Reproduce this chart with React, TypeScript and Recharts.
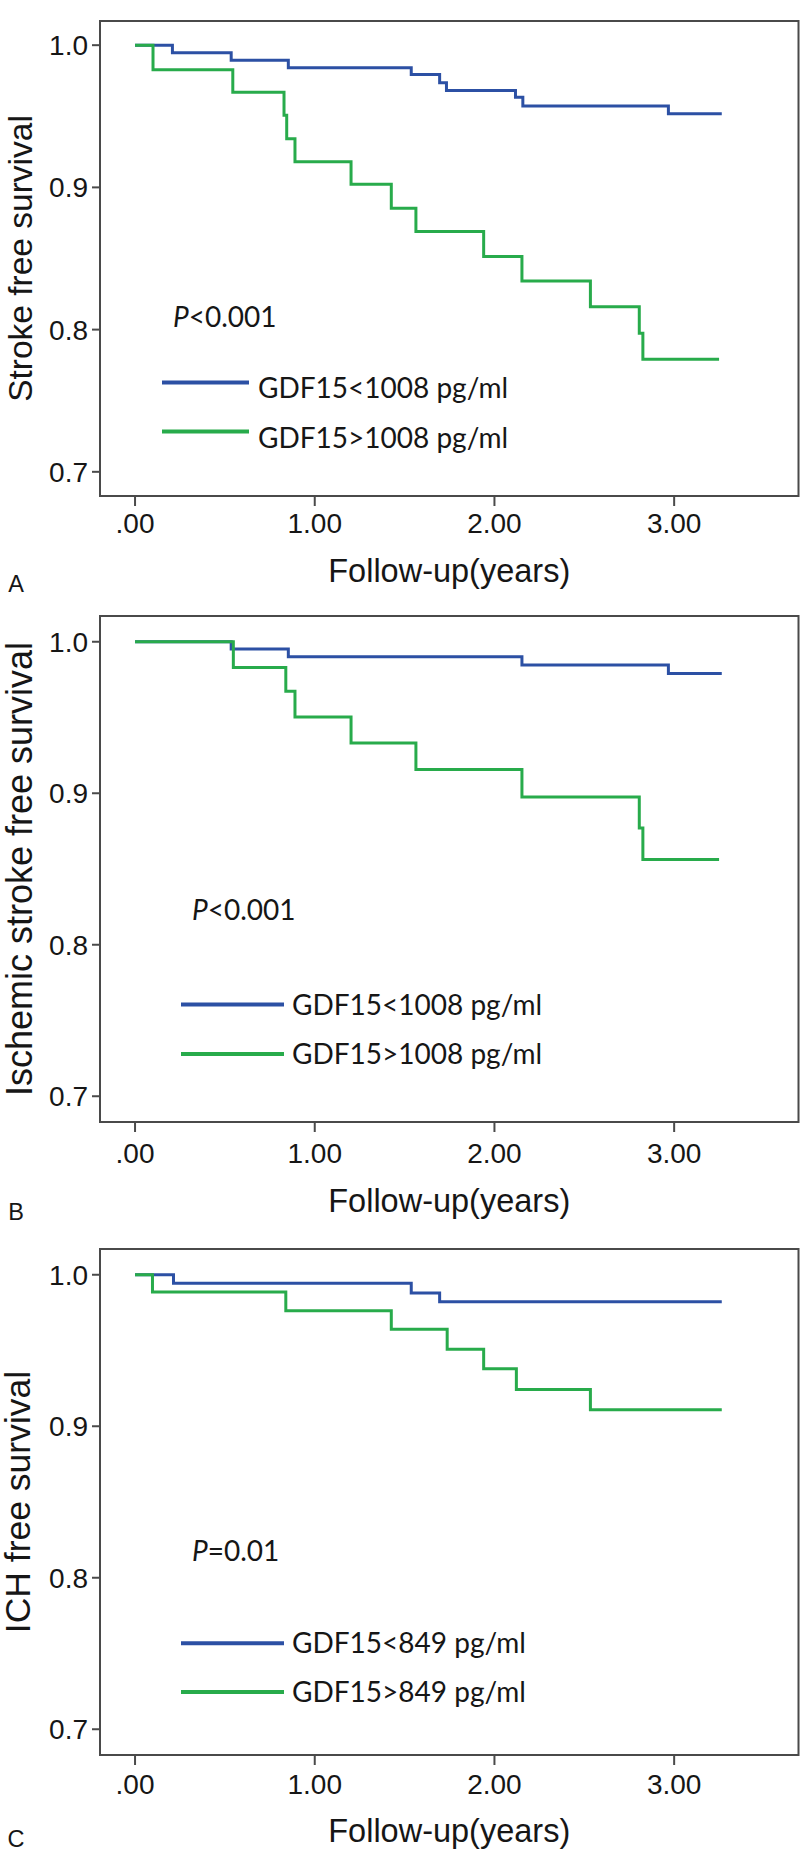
import React from 'react';
import { LineChart, Line, XAxis, YAxis, ReferenceArea, Legend } from 'recharts';

// ---------- data ----------
const xTicks = [0, 1, 2, 3];
const yTicks = [0.7, 0.8, 0.9, 1.0];
const xDomain: [number, number] = [-0.195, 3.692];
const yDomain: [number, number] = [0.683, 1.017];

const panelLetters = ['A', 'B', 'C'];
const yTitles = ['Stroke free survival', 'Ischemic stroke free survival', 'ICH free survival'];
const xTitle = 'Follow-up(years)';
const pValues = ['<0.001', '<0.001', '=0.01'];
const lowLabels = ['GDF15<1008 pg/ml', 'GDF15<1008 pg/ml', 'GDF15<849 pg/ml'];
const highLabels = ['GDF15>1008 pg/ml', 'GDF15>1008 pg/ml', 'GDF15>849 pg/ml'];

const aLow = [
  { t: 0, s: 1 }, { t: 0.208, s: 0.9947 }, { t: 0.535, s: 0.9894 }, { t: 0.853, s: 0.9842 },
  { t: 1.537, s: 0.9794 }, { t: 1.695, s: 0.9736 }, { t: 1.733, s: 0.9681 }, { t: 2.117, s: 0.9633 },
  { t: 2.158, s: 0.9572 }, { t: 2.968, s: 0.9517 }, { t: 3.265, s: 0.9517 },
];
const aHigh = [
  { t: 0, s: 1 }, { t: 0.1, s: 0.9828 }, { t: 0.544, s: 0.9669 }, { t: 0.829, s: 0.9508 },
  { t: 0.844, s: 0.9342 }, { t: 0.89, s: 0.918 }, { t: 1.202, s: 0.9022 }, { t: 1.426, s: 0.8853 },
  { t: 1.563, s: 0.8689 }, { t: 1.94, s: 0.8514 }, { t: 2.153, s: 0.8342 }, { t: 2.534, s: 0.8161 },
  { t: 2.806, s: 0.7975 }, { t: 2.826, s: 0.7792 }, { t: 3.25, s: 0.7792 },
];
const bLow = [
  { t: 0, s: 1 }, { t: 0.535, s: 0.9953 }, { t: 0.853, s: 0.9901 }, { t: 2.153, s: 0.9846 },
  { t: 2.968, s: 0.9791 }, { t: 3.265, s: 0.9791 },
];
const bHigh = [
  { t: 0, s: 1 }, { t: 0.547, s: 0.983 }, { t: 0.839, s: 0.9674 }, { t: 0.89, s: 0.9504 },
  { t: 1.202, s: 0.9332 }, { t: 1.563, s: 0.9157 }, { t: 2.153, s: 0.8975 }, { t: 2.806, s: 0.8771 },
  { t: 2.826, s: 0.8562 }, { t: 3.25, s: 0.8562 },
];
const cLow = [
  { t: 0, s: 1 }, { t: 0.214, s: 0.9944 }, { t: 1.537, s: 0.988 }, { t: 1.695, s: 0.9822 },
  { t: 3.265, s: 0.9822 },
];
const cHigh = [
  { t: 0, s: 1 }, { t: 0.097, s: 0.9886 }, { t: 0.839, s: 0.9763 }, { t: 1.426, s: 0.9641 },
  { t: 1.737, s: 0.9508 }, { t: 1.94, s: 0.938 }, { t: 2.122, s: 0.9242 }, { t: 2.534, s: 0.9109 },
  { t: 3.265, s: 0.9109 },
];

// ---------- styles ----------
const BLUE = '#2c50a4';
const GREEN = '#28ab4b';
const FRAME = '#4a4a4a';
const TEXT = '#161616';
const ARIAL = '"Liberation Sans", Arial, sans-serif';
const CAL = 'Lato, "Open Sans", sans-serif';

const fmtX = (v: number) => (v === 0 ? '.00' : v.toFixed(2));
const fmtY = (v: number) => v.toFixed(1);

type Layout = {
  top: number;
  height: number;
  mTop: number;
  mBottom: number;
  tickMargin: number;
  xLabelOffset: number;
  yLabelSize: number;
  yLabelOffset: number;
  pX: number;
  pBase: number;
  lineX1: number;
  lineX2: number;
  line1Y: number;
  line2Y: number;
  textX: number;
  text1Base: number;
  text2Base: number;
  letterBase: number;
};

const layouts: Layout[] = [
  {
    top: 0, height: 600, mTop: 21, mBottom: 44, tickMargin: 7, xLabelOffset: 3,
    yLabelSize: 33.5, yLabelOffset: 20,
    pX: 173, pBase: 327, lineX1: 162, lineX2: 249, line1Y: 382.6, line2Y: 431.6,
    textX: 258, text1Base: 398, text2Base: 447.5, letterBase: 591.5,
  },
  {
    top: 600, height: 630, mTop: 16, mBottom: 48, tickMargin: 11, xLabelOffset: 7,
    yLabelSize: 36, yLabelOffset: 19,
    pX: 192, pBase: 320, lineX1: 181, lineX2: 284, line1Y: 404.6, line2Y: 454,
    textX: 292, text1Base: 414.5, text2Base: 463.5, letterBase: 620,
  },
  {
    top: 1230, height: 621, mTop: 19, mBottom: 36, tickMargin: 9, xLabelOffset: 4,
    yLabelSize: 35.5, yLabelOffset: 17.5,
    pX: 192, pBase: 331, lineX1: 181, lineX2: 284, line1Y: 413.3, line2Y: 462,
    textX: 292, text1Base: 422.5, text2Base: 472, letterBase: 616.5,
  },
];

const seriesSets = [
  [aLow, aHigh],
  [bLow, bHigh],
  [cLow, cHigh],
];

function Annotations({ L, i }: { L: Layout; i: number }) {
  return (
    <svg width={800} height={L.height} style={{ display: 'block' }}>
      <text x={L.pX} y={L.pBase} fontFamily={CAL} fontSize={28} fill={TEXT}>
        <tspan fontStyle="italic">P</tspan>
        {pValues[i]}
      </text>
      <line x1={L.lineX1} x2={L.lineX2} y1={L.line1Y} y2={L.line1Y} stroke={BLUE} strokeWidth={4} />
      <line x1={L.lineX1} x2={L.lineX2} y1={L.line2Y} y2={L.line2Y} stroke={GREEN} strokeWidth={4} />
      <text x={L.textX} y={L.text1Base} fontFamily={CAL} fontSize={28} fill={TEXT}>
        {lowLabels[i]}
      </text>
      <text x={L.textX} y={L.text2Base} fontFamily={CAL} fontSize={28} fill={TEXT}>
        {highLabels[i]}
      </text>
      <text x={16} y={L.letterBase} textAnchor="middle" fontFamily={ARIAL} fontSize={23.5} fill={TEXT}>
        {panelLetters[i]}
      </text>
    </svg>
  );
}

function Panel({ i }: { i: number }) {
  const L = layouts[i];
  const [low, high] = seriesSets[i];
  return (
    <div style={{ position: 'absolute', left: 0, top: L.top, width: 800, height: L.height }}>
      <LineChart
        width={800}
        height={L.height}
        margin={{ top: L.mTop, right: 1.5, bottom: L.mBottom, left: 0 }}
      >
        <XAxis
          type="number"
          dataKey="t"
          domain={xDomain}
          allowDataOverflow
          ticks={xTicks}
          interval={0}
          tickFormatter={fmtX}
          axisLine={false}
          tickLine={{ stroke: FRAME, strokeWidth: 2 }}
          tickSize={10}
          tickMargin={L.tickMargin}
          height={60}
          tick={{ fontSize: 28, fill: TEXT, fontFamily: ARIAL }}
          label={{
            value: xTitle,
            position: 'bottom',
            offset: L.xLabelOffset,
            fontSize: 32.5,
            fontFamily: ARIAL,
            fill: TEXT,
          }}
        />
        <YAxis
          type="number"
          domain={yDomain}
          allowDataOverflow
          ticks={yTicks}
          interval={0}
          tickFormatter={fmtY}
          axisLine={false}
          tickLine={{ stroke: FRAME, strokeWidth: 2 }}
          tickSize={8}
          tickMargin={4}
          width={100}
          tick={{ fontSize: 28, fill: TEXT, fontFamily: ARIAL }}
          label={{
            value: yTitles[i],
            angle: -90,
            position: 'insideLeft',
            offset: L.yLabelOffset,
            fontSize: L.yLabelSize,
            fontFamily: ARIAL,
            fill: TEXT,
            style: { textAnchor: 'middle' },
          }}
        />
        <ReferenceArea
          x1={xDomain[0]}
          x2={xDomain[1]}
          y1={yDomain[0]}
          y2={yDomain[1]}
          fill="none"
          fillOpacity={0}
          stroke={FRAME}
          strokeWidth={2}
          ifOverflow="visible"
        />
        <Line
          data={low}
          dataKey="s"
          type="stepAfter"
          stroke={BLUE}
          strokeWidth={3}
          dot={false}
          activeDot={false}
          isAnimationActive={false}
        />
        <Line
          data={high}
          dataKey="s"
          type="stepAfter"
          stroke={GREEN}
          strokeWidth={3}
          dot={false}
          activeDot={false}
          isAnimationActive={false}
        />
        <Legend
          layout="horizontal"
          verticalAlign="middle"
          align="center"
          wrapperStyle={{ left: 0, top: 0, width: 800, height: L.height, pointerEvents: 'none' }}
          content={() => <Annotations L={L} i={i} />}
        />
      </LineChart>
    </div>
  );
}

export default function App() {
  return (
    <div style={{ position: 'absolute', left: 0, top: 0, width: 800, height: 1851, background: '#fff' }}>
      <Panel i={0} />
      <Panel i={1} />
      <Panel i={2} />
    </div>
  );
}
